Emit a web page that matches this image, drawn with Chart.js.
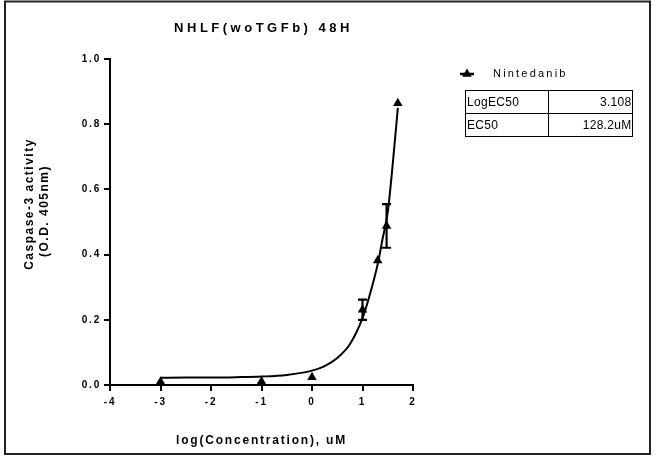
<!DOCTYPE html>
<html><head><meta charset="utf-8">
<script src="https://cdn.jsdelivr.net/npm/chart.js@4.4.0/dist/chart.umd.min.js"></script>
<style>html,body{margin:0;padding:0;background:#fff;}#wrap{width:667px;height:461px;position:relative;}</style>
</head><body><div id="wrap"><canvas id="c" width="667" height="461"></canvas></div>
<script>
const chartTitle = 'NHLF(woTGFb) 48H';
const xAxisTitle = 'log(Concentration), uM';
const yAxisTitle = ['Caspase-3 activity', '(O.D. 405nm)'];
const seriesName = 'Nintedanib';
const logConc = [-3, -1, 0, 1, 1.301, 1.477, 1.699];
const meanActivity = [0.010, 0.011, 0.024, 0.231, 0.382, 0.488, 0.864];
const semActivity = [0, 0, 0, 0.031, 0, 0.067, 0];
const fitLogConc = [-3, -2.5, -2, -1.5, -1, -0.5, 0, 0.25, 0.5, 0.75, 1.0, 1.15, 1.3, 1.4, 1.5, 1.6, 1.7];
const fitActivity = [0.022, 0.023, 0.023, 0.024, 0.026, 0.031, 0.044, 0.058, 0.083, 0.125, 0.205, 0.28, 0.37, 0.45, 0.53, 0.68, 0.85];
const xTicks = [-4, -3, -2, -1, 0, 1, 2];
const yTicks = [0, 0.2, 0.4, 0.6, 0.8, 1.0];
const tableRows = [['LogEC50', '3.108'], ['EC50', '128.2uM']];

const FONT = "'Liberation Sans', Arial, sans-serif";

const decor = {
  id: 'decor',
  beforeDraw(chart) {
    const ctx = chart.ctx;
    ctx.save();
    ctx.fillStyle = '#fff';
    ctx.fillRect(0, 0, chart.width, chart.height);
    ctx.restore();
    ctx.letterSpacing = '1.8px';
  },
  afterDatasetsDraw(chart) {
    const {ctx, scales: {x, y}} = chart;
    ctx.save();
    ctx.strokeStyle = '#000';
    ctx.lineWidth = 2.2;
    logConc.forEach((c, i) => {
      const e = semActivity[i];
      if (!e) return;
      const px = x.getPixelForValue(c);
      const top = y.getPixelForValue(meanActivity[i] + e);
      const bot = y.getPixelForValue(meanActivity[i] - e);
      ctx.beginPath();
      ctx.moveTo(px, top); ctx.lineTo(px, bot);
      ctx.moveTo(px - 4.5, top); ctx.lineTo(px + 4.5, top);
      ctx.moveTo(px - 4.5, bot); ctx.lineTo(px + 4.5, bot);
      ctx.stroke();
    });
    ctx.restore();
  },
  afterDraw(chart) {
    const {ctx, chartArea, scales: {x, y}} = chart;
    ctx.save();
    // outer frame
    ctx.strokeStyle = '#222';
    ctx.lineWidth = 2;
    ctx.strokeRect(5, 1.5, 645, 452.5);
    ctx.fillStyle = '#000';
    // chart title
    ctx.letterSpacing = '3.5px';
    ctx.font = 'bold 13px ' + FONT;
    ctx.textAlign = 'center';
    ctx.textBaseline = 'middle';
    ctx.fillText(chartTitle, (chartArea.left + chartArea.right) / 2 + 2, 28);
    // y axis title
    ctx.letterSpacing = '1.5px';
    ctx.font = 'bold 12px ' + FONT;
    const yc = (chartArea.top + chartArea.bottom) / 2;
    ctx.save();
    ctx.translate(30, yc - 18);
    ctx.rotate(-Math.PI / 2);
    ctx.fillText(yAxisTitle[0], 0, 0);
    ctx.restore();
    ctx.save();
    ctx.translate(45, yc - 11);
    ctx.rotate(-Math.PI / 2);
    ctx.fillText(yAxisTitle[1], 0, 0);
    ctx.restore();
    // legend
    ctx.strokeStyle = '#000';
    ctx.lineWidth = 2.5;
    ctx.beginPath(); ctx.moveTo(460, 74); ctx.lineTo(474, 74); ctx.stroke();
    const r = 5.5;
    ctx.beginPath();
    ctx.moveTo(467, 74 - r);
    ctx.lineTo(467 + 0.866 * r, 74 + 0.5 * r);
    ctx.lineTo(467 - 0.866 * r, 74 + 0.5 * r);
    ctx.closePath(); ctx.fill();
    ctx.letterSpacing = '2.2px';
    ctx.font = '11px ' + FONT;
    ctx.textAlign = 'left';
    ctx.fillText(seriesName, 493, 74);
    // table
    ctx.letterSpacing = '0.3px';
    ctx.font = '12px ' + FONT;
    ctx.lineWidth = 1;
    const tx0 = 465.5, tx1 = 632.5, tdiv = 548.5, ty0 = 90.5, rowH = 23;
    ctx.strokeRect(tx0, ty0, tx1 - tx0, rowH * tableRows.length);
    ctx.beginPath();
    ctx.moveTo(tdiv, ty0); ctx.lineTo(tdiv, ty0 + rowH * tableRows.length);
    for (let i = 1; i < tableRows.length; i++) { ctx.moveTo(tx0, ty0 + rowH * i); ctx.lineTo(tx1, ty0 + rowH * i); }
    ctx.stroke();
    tableRows.forEach((row, i) => {
      const cy = ty0 + rowH * i + rowH / 2 + 0.5;
      ctx.textAlign = 'left';
      ctx.fillText(row[0], tx0 + 1.5, cy);
      ctx.textAlign = 'right';
      ctx.fillText(row[1], tx1 - 1, cy);
    });
    ctx.restore();
  }
};

new Chart(document.getElementById('c'), {
  type: 'scatter',
  data: {
    datasets: [
      {
        label: seriesName,
        data: logConc.map((v, i) => ({x: v, y: meanActivity[i]})),
        pointStyle: 'triangle',
        pointRadius: 5.5,
        backgroundColor: '#000',
        borderColor: '#000',
        borderWidth: 0,
        showLine: false
      },
      {
        label: 'fit',
        type: 'line',
        data: fitLogConc.map((v, i) => ({x: v, y: fitActivity[i]})),
        borderColor: '#000',
        borderWidth: 2,
        pointRadius: 0,
        fill: false,
        cubicInterpolationMode: 'monotone'
      }
    ]
  },
  options: {
    responsive: false,
    animation: false,
    layout: {padding: {left: 0, top: 59, right: 254, bottom: 0}},
    plugins: {legend: {display: false}, tooltip: {enabled: false}, title: {display: false}},
    scales: {
      x: {
        type: 'linear', min: -4, max: 2,
        afterFit(s) { s.height = 76; },
        afterBuildTicks(s) { s.ticks = xTicks.map(v => ({value: v})); },
        grid: {drawOnChartArea: false, drawTicks: true, tickLength: 6, color: '#000', lineWidth: 2},
        border: {display: true, color: '#000', width: 2},
        ticks: {color: '#000', padding: 5, font: {family: FONT, size: 10, weight: 'bold'}, callback: v => String(v)},
        title: {display: true, text: xAxisTitle, color: '#000', font: {family: FONT, size: 12, weight: 'bold', lineHeight: 1.25}, padding: {top: 0, bottom: 13}}
      },
      y: {
        type: 'linear', min: 0, max: 1,
        afterFit(s) { s.width = 110; },
        afterBuildTicks(s) { s.ticks = yTicks.map(v => ({value: v})); },
        grid: {drawOnChartArea: false, drawTicks: true, tickLength: 6, color: '#000', lineWidth: 2},
        border: {display: true, color: '#000', width: 2},
        ticks: {color: '#000', padding: 3, font: {family: FONT, size: 10, weight: 'bold'}, callback: v => Number(v).toFixed(1)}
      }
    }
  },
  plugins: [decor]
});
</script></body></html>
